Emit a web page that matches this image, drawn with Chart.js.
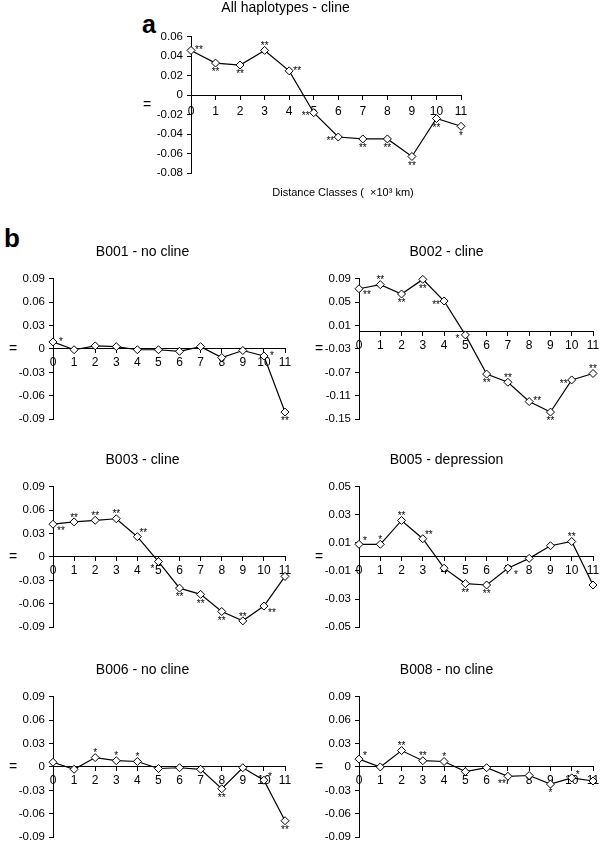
<!DOCTYPE html>
<html>
<head>
<meta charset="utf-8">
<script src="https://cdn.jsdelivr.net/npm/chart.js@4.4.1/dist/chart.umd.min.js"></script>
<style>
  html, body { margin: 0; padding: 0; background: #fff; overflow: hidden; }
  body { width: 600px; height: 848px; position: relative; font-family: "Liberation Sans", Arial, sans-serif; }
  canvas { position: absolute; }
  .tag { position: absolute; font-weight: bold; line-height: 1; color: #000; }
</style>
</head>
<body>
<div class="tag" style="left:142px; top:12px; font-size:25px;">a</div>
<div class="tag" style="left:4px; top:225px; font-size:26px;">b</div>

<canvas id="panelA" width="366" height="205" style="left:110px; top:0px;"></canvas>
<canvas id="panelB001" width="314" height="200" style="left:0px; top:230px;"></canvas>
<canvas id="panelB002" width="340" height="200" style="left:300px; top:230px;"></canvas>
<canvas id="panelB003" width="314" height="200" style="left:0px; top:438px;"></canvas>
<canvas id="panelB005" width="340" height="200" style="left:300px; top:438px;"></canvas>
<canvas id="panelB006" width="314" height="200" style="left:0px; top:648px;"></canvas>
<canvas id="panelB008" width="340" height="200" style="left:300px; top:648px;"></canvas>

<script>
Chart.defaults.font.family = '"Liberation Sans", Arial, sans-serif';
Chart.defaults.color = '#000';

// distance classes (x 10^3 km)
const classes = ['0', '1', '2', '3', '4', '5', '6', '7', '8', '9', '10', '11'];

// y tick labels per panel
const ticksA = [-0.08, -0.06, -0.04, -0.02, 0, 0.02, 0.04, 0.06];
const ticks09 = [-0.09, -0.06, -0.03, 0, 0.03, 0.06, 0.09];
const ticksB002 = [-0.15, -0.11, -0.07, -0.03, 0.01, 0.05, 0.09];
const ticksB005 = [-0.05, -0.03, -0.01, 0.01, 0.03, 0.05];

// correlogram values + significance marks
const allHap = [0.046, 0.033, 0.031, 0.046, 0.025, -0.018, -0.043, -0.045, -0.045, -0.063, -0.024, -0.032];
const allHapSig = ['**', '**', '**', '**', '**', '**', '**', '**', '**', '**', '**', '*'];
const allHapPos = ['r', 'b', 'b', 'a', 'r', 'l', 'l', 'b', 'b', 'b', 'b', 'b'];

const b001 = [0.009, -0.001, 0.004, 0.003, -0.001, -0.001, -0.003, 0.003, -0.011, -0.002, -0.009, -0.081];
const b001Sig = ['*', '', '', '', '', '', '', '', '', '', '*', '**'];
const b001Pos = ['r', '', '', '', '', '', '', '', '', '', 'r', 'b'];

const b002 = [0.073, 0.080, 0.064, 0.089, 0.052, -0.006, -0.073, -0.087, -0.120, -0.138, -0.083, -0.072];
const b002Sig = ['**', '**', '**', '**', '**', '*', '**', '**', '**', '**', '**', '**'];
const b002Pos = ['br', 'a', 'b', 'b', 'l', 'l', 'b', 'a', 'r', 'b', 'l', 'a'];

const b003 = [0.042, 0.045, 0.047, 0.049, 0.026, -0.006, -0.040, -0.048, -0.070, -0.082, -0.063, -0.025];
const b003Sig = ['**', '**', '**', '**', '**', '*', '**', '**', '**', '**', '**', ''];
const b003Pos = ['br', 'a', 'a', 'a', 'ar', 'bl', 'b', 'b', 'b', 'a', 'br', ''];

const b005 = [0.009, 0.009, 0.026, 0.013, -0.008, -0.019, -0.020, -0.008, -0.001, 0.008, 0.011, -0.020];
const b005Sig = ['*', '*', '**', '**', '', '**', '**', '*', '', '', '**', ''];
const b005Pos = ['ar', 'a', 'a', 'ar', '', 'b', 'b', 'br', '', '', 'a', ''];

const b006 = [0.006, -0.003, 0.012, 0.008, 0.007, -0.002, -0.001, -0.003, -0.028, -0.001, -0.017, -0.069];
const b006Sig = ['', '', '*', '*', '*', '', '', '', '**', '', '*', '**'];
const b006Pos = ['', '', 'a', 'a', 'a', '', '', '', 'b', '', 'ar', 'b'];

const b008 = [0.010, 0.000, 0.021, 0.008, 0.007, -0.006, -0.001, -0.012, -0.011, -0.022, -0.014, -0.018];
const b008Sig = ['*', '', '**', '**', '*', '', '', '**', '', '*', '*', ''];
const b008Pos = ['ar', '', 'a', 'a', 'a', '', '', 'bl', '', 'b', 'ar', ''];

// where the asterisks sit around a point (glyph centre offsets)
const OFF = {
  a: [0, -7], b: [0, 6.5], r: [8, -3], l: [-8, 1],
  ar: [6, -6], br: [8, 4], bl: [-6, 5]
};

function textPlugin(sig, pos, cfg) {
  return {
    id: 'panelText',
    afterDatasetsDraw(chart) {
      const ctx = chart.ctx;
      const area = chart.chartArea;
      const pts = chart.getDatasetMeta(0).data;
      ctx.save();
      ctx.fillStyle = '#000';
      ctx.textAlign = 'center';
      ctx.textBaseline = 'alphabetic';
      ctx.font = '10px "Liberation Sans", Arial, sans-serif';
      sig.forEach((s, i) => {
        if (!s) return;
        const o = OFF[pos[i]];
        ctx.fillText(s, pts[i].x + o[0], pts[i].y + o[1] + 5.7);
      });
      ctx.textBaseline = 'middle';
      ctx.font = '14px "Liberation Sans", Arial, sans-serif';
      ctx.fillText('=', area.left - cfg.eqGap, (area.top + area.bottom) / 2);
      if (cfg.xTitle) {
        ctx.font = '11px "Liberation Sans", Arial, sans-serif';
        ctx.fillText(cfg.xTitle, cfg.xTitleX, area.bottom + 20);
      }
      ctx.restore();
    }
  };
}

function makePanel(id, title, values, sig, pos, yTicks, cfg) {
  new Chart(document.getElementById(id), {
    type: 'line',
    data: {
      labels: classes,
      datasets: [{
        data: values,
        borderColor: '#000',
        borderWidth: 1.2,
        pointStyle: 'rectRot',
        pointRadius: 4,
        pointBackgroundColor: '#fff',
        pointBorderColor: '#000',
        pointBorderWidth: 1,
        tension: 0,
        clip: false
      }]
    },
    options: {
      responsive: false,
      animation: false,
      devicePixelRatio: 1,
      layout: { padding: { left: 0, right: cfg.padR, top: 0, bottom: cfg.padB } },
      plugins: {
        legend: { display: false },
        tooltip: { enabled: false },
        title: {
          display: true,
          text: title,
          color: '#000',
          font: { size: 14, weight: 'normal' },
          padding: { top: cfg.titleTop, bottom: cfg.titleBottom }
        }
      },
      scales: {
        x: {
          type: 'category',
          offset: false,
          position: { y: 0 },
          grid: { drawOnChartArea: false, color: '#000', tickLength: 4 },
          border: { color: '#000', width: 1 },
          ticks: { color: '#000', font: { size: 12 }, padding: cfg.xPad, maxRotation: 0, autoSkip: false }
        },
        y: {
          min: yTicks[0],
          max: yTicks[yTicks.length - 1],
          grid: { drawOnChartArea: false, color: '#000', tickLength: 4 },
          border: { color: '#000', width: 1 },
          ticks: {
            color: '#000',
            font: { size: 11.5 },
            padding: 4,
            callback: v => String(+(+v).toFixed(2))
          },
          afterBuildTicks: s => { s.ticks = yTicks.map(v => ({ value: v })); },
          afterFit: s => { s.width = cfg.yW; }
        }
      }
    },
    plugins: [textPlugin(sig, pos, cfg)]
  });
}

const leftCol = { yW: 53, padR: 29, padB: 7, titleTop: 14, titleBottom: 18, xPad: 3, eqGap: 40 };
const rightCol = { yW: 59, padR: 47, padB: 7, titleTop: 14, titleBottom: 18, xPad: 3, eqGap: 40 };

makePanel('panelA', 'All haplotypes - cline', allHap, allHapSig, allHapPos, ticksA, {
  yW: 81, padR: 15, padB: 32, titleTop: 0, titleBottom: 20, xPad: 5, eqGap: 44,
  xTitle: 'Distance Classes (  \u00d710\u00b3 km)', xTitleX: 233
});
makePanel('panelB001', 'B001 - no cline', b001, b001Sig, b001Pos, ticks09, leftCol);
makePanel('panelB002', 'B002 - cline', b002, b002Sig, b002Pos, ticksB002, rightCol);
makePanel('panelB003', 'B003 - cline', b003, b003Sig, b003Pos, ticks09, leftCol);
makePanel('panelB005', 'B005 - depression', b005, b005Sig, b005Pos, ticksB005, rightCol);
makePanel('panelB006', 'B006 - no cline', b006, b006Sig, b006Pos, ticks09, leftCol);
makePanel('panelB008', 'B008 - no cline', b008, b008Sig, b008Pos, ticks09, rightCol);
</script>
</body>
</html>
